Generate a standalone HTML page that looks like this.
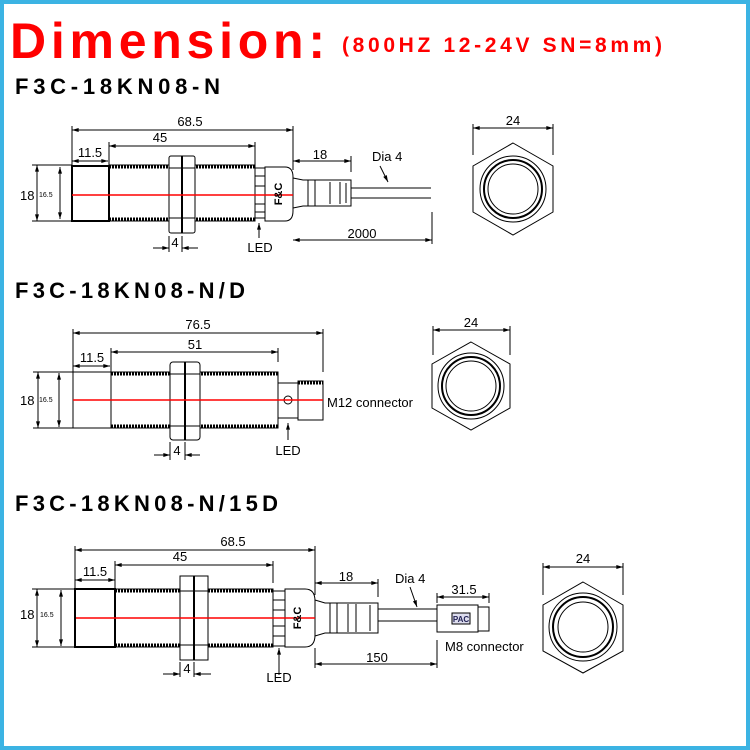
<!DOCTYPE html>
<html><head><meta charset="utf-8"><style>
html,body{margin:0;padding:0;background:#fff}
svg{display:block}
text{font-family:"Liberation Sans",Arial,sans-serif}
</style></head><body>
<svg width="750" height="750" viewBox="0 0 750 750" xmlns="http://www.w3.org/2000/svg">
<defs>
<marker id="a" viewBox="0 0 10 6" refX="10" refY="3" markerWidth="7" markerHeight="4" orient="auto-start-reverse"><path d="M0,0 L10,3 L0,6z" fill="#000"/></marker>
</defs>
<rect x="2" y="2" width="746" height="746" fill="#fff" stroke="#3bb3e3" stroke-width="4"/>
<text x="10" y="58" font-size="50" font-weight="bold" fill="#f00" textLength="315" lengthAdjust="spacing">Dimension:</text>
<text x="342" y="52" font-size="21" font-weight="bold" fill="#f00" textLength="320" lengthAdjust="spacing">(800HZ 12-24V SN=8mm)</text>
<g font-weight="bold" font-size="22" fill="#000">
<text x="15" y="94" textLength="205" lengthAdjust="spacing">F3C-18KN08-N</text>
<text x="15" y="298" textLength="230" lengthAdjust="spacing">F3C-18KN08-N/D</text>
<text x="15" y="511" textLength="263" lengthAdjust="spacing">F3C-18KN08-N/15D</text>
</g>

<g stroke="#000" fill="none" stroke-width="1">
<!-- ===== Section 1 ===== -->
<line x1="72" y1="126" x2="72" y2="166"/><line x1="293" y1="126" x2="293" y2="170"/>
<line x1="72" y1="130" x2="293" y2="130" marker-start="url(#a)" marker-end="url(#a)"/>
<line x1="109" y1="142" x2="109" y2="165"/><line x1="255" y1="142" x2="255" y2="165"/>
<line x1="109" y1="146" x2="255" y2="146" marker-start="url(#a)" marker-end="url(#a)"/>
<line x1="72" y1="161" x2="108" y2="161" marker-start="url(#a)" marker-end="url(#a)"/>
<rect x="72" y="166" width="37" height="55" stroke-width="2"/>
<rect x="109" y="165" width="146" height="56"/>
<line x1="109" y1="167" x2="255" y2="167" stroke-width="3" stroke-dasharray="2 1"/>
<line x1="109" y1="219" x2="255" y2="219" stroke-width="3" stroke-dasharray="2 1"/>
<rect x="169" y="156" width="26" height="77" rx="2" fill="#fff"/>
<line x1="182" y1="156" x2="182" y2="233" stroke-width="2"/>
<line x1="169" y1="168" x2="195" y2="168"/><line x1="169" y1="218" x2="195" y2="218"/>
<rect x="255" y="168" width="10" height="50"/>
<path d="M255,176h10M255,186h10M255,204h10M255,212h10"/>
<path d="M265,167h20q8,0 8,10v34q0,10 -8,10h-20z"/>
<path d="M293,178l10,2h48v26h-48l-10,2"/>
<path d="M308,180v26M315,180v26M330,182v22M340,182v22M346,183v20"/>
<path d="M351,188h80M351,198h80"/>
<line x1="37" y1="165" x2="37" y2="221" marker-start="url(#a)" marker-end="url(#a)"/>
<line x1="60" y1="167" x2="60" y2="219" marker-start="url(#a)" marker-end="url(#a)"/>
<path d="M32,165h40M32,221h50"/>
<line x1="169" y1="236" x2="169" y2="252"/><line x1="182" y1="236" x2="182" y2="252"/>
<line x1="153" y1="248" x2="169" y2="248" marker-end="url(#a)"/><line x1="198" y1="248" x2="182" y2="248" marker-end="url(#a)"/>
<line x1="259" y1="238" x2="259" y2="223" marker-end="url(#a)"/>
<line x1="351" y1="156" x2="351" y2="172"/>
<line x1="293" y1="161" x2="351" y2="161" marker-start="url(#a)" marker-end="url(#a)"/>
<line x1="432" y1="212" x2="432" y2="244"/>
<line x1="293" y1="240" x2="432" y2="240" marker-start="url(#a)" marker-end="url(#a)"/>
<line x1="380" y1="166" x2="388" y2="182" marker-end="url(#a)"/>
<!-- hex1 -->
<polygon points="513,143 553,166 553,212 513,235 473,212 473,166"/>
<circle cx="513" cy="189" r="33"/><circle cx="513" cy="189" r="29" stroke-width="2"/><circle cx="513" cy="189" r="25"/>
<line x1="473" y1="124" x2="473" y2="155"/><line x1="553" y1="124" x2="553" y2="155"/>
<line x1="473" y1="128" x2="553" y2="128" marker-start="url(#a)" marker-end="url(#a)"/>

<!-- ===== Section 2 ===== -->
<line x1="73" y1="329" x2="73" y2="372"/><line x1="323" y1="329" x2="323" y2="372"/>
<line x1="73" y1="333" x2="323" y2="333" marker-start="url(#a)" marker-end="url(#a)"/>
<line x1="111" y1="348" x2="111" y2="372"/><line x1="278" y1="348" x2="278" y2="362"/>
<line x1="111" y1="352" x2="278" y2="352" marker-start="url(#a)" marker-end="url(#a)"/>
<line x1="73" y1="366" x2="110" y2="366" marker-start="url(#a)" marker-end="url(#a)"/>
<rect x="73" y="372" width="38" height="56"/>
<rect x="111" y="372" width="167" height="56"/>
<line x1="111" y1="374" x2="278" y2="374" stroke-width="3" stroke-dasharray="2 1"/>
<line x1="111" y1="426" x2="278" y2="426" stroke-width="3" stroke-dasharray="2 1"/>
<rect x="170" y="362" width="30" height="78" rx="3" fill="#fff"/>
<line x1="185" y1="362" x2="185" y2="440" stroke-width="2"/>
<line x1="170" y1="374" x2="200" y2="374"/><line x1="170" y1="426" x2="200" y2="426"/>
<rect x="278" y="383" width="20" height="35"/>
<circle cx="288" cy="400" r="4"/>
<rect x="298" y="381" width="25" height="39"/>
<line x1="298" y1="383" x2="323" y2="383" stroke-width="3" stroke-dasharray="2 1"/>
<line x1="38" y1="372" x2="38" y2="428" marker-start="url(#a)" marker-end="url(#a)"/>
<line x1="59" y1="373" x2="59" y2="427" marker-start="url(#a)" marker-end="url(#a)"/>
<path d="M33,372h40M33,428h50"/>
<line x1="170" y1="442" x2="170" y2="460"/><line x1="185" y1="442" x2="185" y2="460"/>
<line x1="154" y1="455" x2="170" y2="455" marker-end="url(#a)"/><line x1="200" y1="455" x2="185" y2="455" marker-end="url(#a)"/>
<line x1="288" y1="440" x2="288" y2="423" marker-end="url(#a)"/>
<!-- hex2 -->
<polygon points="471,342 510,364 510,408 471,430 432,408 432,364"/>
<circle cx="471" cy="386" r="33"/><circle cx="471" cy="386" r="29" stroke-width="2"/><circle cx="471" cy="386" r="25"/>
<line x1="433" y1="326" x2="433" y2="355"/><line x1="510" y1="326" x2="510" y2="355"/>
<line x1="433" y1="330" x2="510" y2="330" marker-start="url(#a)" marker-end="url(#a)"/>

<!-- ===== Section 3 ===== -->
<line x1="75" y1="546" x2="75" y2="589"/><line x1="315" y1="546" x2="315" y2="595"/>
<line x1="75" y1="550" x2="315" y2="550" marker-start="url(#a)" marker-end="url(#a)"/>
<line x1="115" y1="561" x2="115" y2="588"/><line x1="273" y1="561" x2="273" y2="583"/>
<line x1="115" y1="565" x2="273" y2="565" marker-start="url(#a)" marker-end="url(#a)"/>
<line x1="75" y1="580" x2="115" y2="580" marker-start="url(#a)" marker-end="url(#a)"/>
<rect x="75" y="589" width="40" height="58" stroke-width="2"/>
<rect x="115" y="589" width="158" height="58"/>
<line x1="115" y1="591" x2="273" y2="591" stroke-width="3" stroke-dasharray="2 1"/>
<line x1="115" y1="645" x2="273" y2="645" stroke-width="3" stroke-dasharray="2 1"/>
<rect x="180" y="576" width="28" height="84" fill="#fff"/>
<line x1="194" y1="576" x2="194" y2="660" stroke-width="2"/>
<line x1="180" y1="591" x2="208" y2="591"/><line x1="180" y1="645" x2="208" y2="645"/>
<rect x="273" y="591" width="12" height="55"/>
<path d="M273,600h12M273,610h12M273,626h12M273,636h12"/>
<path d="M285,589h20q10,0 10,12v34q0,12 -10,12h-20z"/>
<path d="M315,600l10,3h53v30h-53l-10,3"/>
<path d="M330,603v30M337,603v30M348,604v28M356,604v28M370,605v26"/>
<path d="M378,609h59M378,621h59"/>
<rect x="437" y="605" width="41" height="27"/>
<rect x="478" y="607" width="11" height="24"/>
<rect x="452" y="613" width="18" height="11" fill="#dde"/>
<line x1="37" y1="589" x2="37" y2="647" marker-start="url(#a)" marker-end="url(#a)"/>
<line x1="61" y1="590" x2="61" y2="646" marker-start="url(#a)" marker-end="url(#a)"/>
<path d="M32,589h43M32,647h50"/>
<line x1="180" y1="662" x2="180" y2="677"/><line x1="194" y1="662" x2="194" y2="677"/>
<line x1="163" y1="674" x2="180" y2="674" marker-end="url(#a)"/><line x1="211" y1="674" x2="194" y2="674" marker-end="url(#a)"/>
<line x1="279" y1="675" x2="279" y2="648" marker-end="url(#a)"/>
<line x1="378" y1="579" x2="378" y2="597"/>
<line x1="315" y1="583" x2="378" y2="583" marker-start="url(#a)" marker-end="url(#a)"/>
<line x1="437" y1="593" x2="437" y2="603"/><line x1="489" y1="593" x2="489" y2="603"/>
<line x1="437" y1="597" x2="489" y2="597" marker-start="url(#a)" marker-end="url(#a)"/>
<line x1="315" y1="648" x2="315" y2="668"/><line x1="437" y1="640" x2="437" y2="668"/>
<line x1="315" y1="664" x2="437" y2="664" marker-start="url(#a)" marker-end="url(#a)"/>
<line x1="410" y1="587" x2="417" y2="607" marker-end="url(#a)"/>
<!-- hex3 -->
<polygon points="583,582 623,605 623,651 583,673 543,651 543,605"/>
<circle cx="583" cy="627" r="34"/><circle cx="583" cy="627" r="30" stroke-width="2"/><circle cx="583" cy="627" r="25"/>
<line x1="543" y1="563" x2="543" y2="595"/><line x1="623" y1="563" x2="623" y2="595"/>
<line x1="543" y1="567" x2="623" y2="567" marker-start="url(#a)" marker-end="url(#a)"/>
</g>

<!-- red center lines -->
<g stroke="#f00" stroke-width="1.5">
<line x1="72" y1="195" x2="293" y2="195"/>
<line x1="73" y1="400" x2="323" y2="400"/>
<line x1="76" y1="618" x2="315" y2="618"/>
</g>

<g font-size="13" fill="#000">
<text x="190" y="126" text-anchor="middle">68.5</text>
<text x="160" y="142" text-anchor="middle">45</text>
<text x="90" y="157" text-anchor="middle">11.5</text>
<text x="20" y="200">18</text>
<text x="39" y="197" font-size="7">16.5</text>
<text x="175" y="247" text-anchor="middle">4</text>
<text x="260" y="252" text-anchor="middle">LED</text>
<text x="320" y="159" text-anchor="middle">18</text>
<text x="372" y="161">Dia 4</text>
<text x="362" y="238" text-anchor="middle">2000</text>
<text x="513" y="125" text-anchor="middle">24</text>

<text x="198" y="329" text-anchor="middle">76.5</text>
<text x="195" y="349" text-anchor="middle">51</text>
<text x="92" y="362" text-anchor="middle">11.5</text>
<text x="20" y="405">18</text>
<text x="39" y="402" font-size="7">16.5</text>
<text x="177" y="455" text-anchor="middle">4</text>
<text x="288" y="455" text-anchor="middle">LED</text>
<text x="327" y="407">M12 connector</text>
<text x="471" y="327" text-anchor="middle">24</text>

<text x="233" y="546" text-anchor="middle">68.5</text>
<text x="180" y="561" text-anchor="middle">45</text>
<text x="95" y="576" text-anchor="middle">11.5</text>
<text x="20" y="619">18</text>
<text x="40" y="617" font-size="7">16.5</text>
<text x="187" y="673" text-anchor="middle">4</text>
<text x="279" y="682" text-anchor="middle">LED</text>
<text x="346" y="581" text-anchor="middle">18</text>
<text x="395" y="583">Dia 4</text>
<text x="464" y="594" text-anchor="middle">31.5</text>
<text x="377" y="662" text-anchor="middle">150</text>
<text x="445" y="651">M8  connector</text>
<text x="583" y="563" text-anchor="middle">24</text>
</g>
<g font-family="Liberation Serif,serif" font-weight="bold" font-size="11" fill="#000">
<text transform="translate(282,194) rotate(-90)" text-anchor="middle">F&amp;C</text>
<text transform="translate(301,618) rotate(-90)" text-anchor="middle">F&amp;C</text>
<text x="461" y="622" font-size="8" text-anchor="middle" fill="#225">PAC</text>
</g>
</svg>
</body></html>
